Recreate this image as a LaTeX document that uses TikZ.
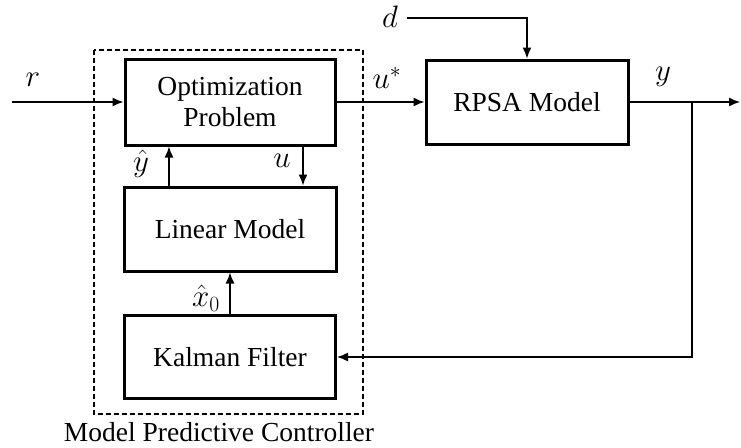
\RequirePackage{fix-cm}
\documentclass[tikz,border=0pt]{standalone}
\usepackage{fontspec}
\setmainfont{Liberation Serif}
\usetikzlibrary{arrows.meta,calc}

\tikzset{
  blk/.style={draw, line width=3pt, minimum width=#1, inner sep=0pt, align=center,
    font=\fontsize{27.5}{31}\selectfont},
  caption text/.style={inner sep=0pt, font=\fontsize{27.5}{31}\selectfont},
  lbl/.style={inner sep=0pt, font=\fontsize{31}{35}\selectfont},
  sig/.style={line width=1.4pt, -{Latex[length=11pt,width=9pt]}},
  frame/.style={draw, line width=1.3pt, dash pattern=on 5pt off 3pt}
}

\begin{document}
\begin{tikzpicture}[x=1pt, y=-1pt]
  \useasboundingbox (0,0) rectangle (741,447);

  % controller frame
  \draw[frame] (94,50) rectangle (363,414);
  \node[caption text, anchor=base] (mpc) at (219,441) {Model Predictive Controller};

  % blocks
  \node[blk=210pt, minimum height=86pt] (opt) at (230,102) {Optimization\\Problem};
  \node[blk=212pt, minimum height=84pt] (lin) at (230,229) {Linear Model};
  \node[blk=211pt, minimum height=83pt] (kal) at (230,357) {Kalman Filter};
  \node[blk=202pt, minimum height=84pt] (plant) at (527,102) {RPSA Model};

  % free ends and branch points
  \coordinate (rin) at (12,102);
  \coordinate (din) at (407,18);
  \coordinate (yout) at (740,102);
  \coordinate (ybr) at (692,102);
  \coordinate (yhx) at (169,0);
  \coordinate (ux) at (303,0);

  % signals
  \draw[sig] (rin) -- (opt.west);
  \draw[sig] (opt.east) -- (plant.west);
  \draw[sig] (din) -| (plant.north);
  \draw[sig] (plant.east) -- (yout);
  \draw[sig] (ybr) |- (kal.east);
  \draw[sig] (lin.north -| yhx) -- (opt.south -| yhx);
  \draw[sig] (opt.south -| ux) -- (lin.north -| ux);
  \draw[sig] (kal.north) -- (lin.south);

  % signal labels
  \node[lbl] (lr) at (33,80) {$r$};
  \node[lbl] (ld) at (390,17) {$d$};
  \node[lbl] (lus) at (387,78) {$u^{*}$};
  \node[lbl] (ly) at (663,77) {$y$};
  \node[lbl] (lyh) at (141,164) {$\hat{y}$};
  \node[lbl] (lu) at (282,161) {$u$};
  \node[lbl] (lx) at (206,298) {$\hat{x}_0$};
\end{tikzpicture}
\end{document}
